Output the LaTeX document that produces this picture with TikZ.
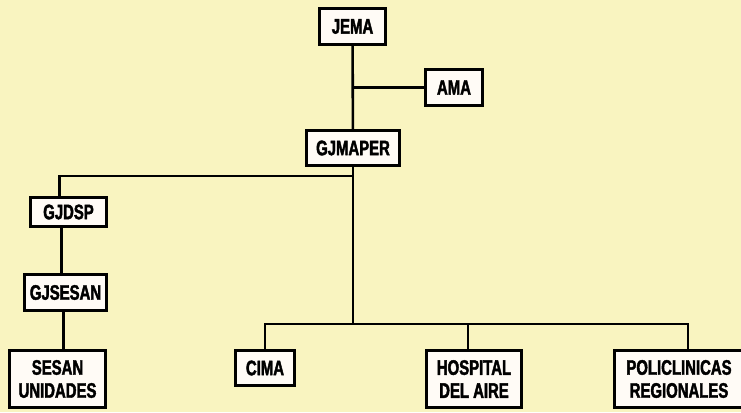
\documentclass[tikz,border=0pt]{standalone}
\usepackage{fontspec}
\setsansfont[FakeStretch=0.71,FakeBold=2]{Liberation Sans}
\definecolor{paper}{RGB}{249,244,192}
\definecolor{cardwhite}{RGB}{255,251,246}
\tikzset{every picture/.style={/utils/exec={\sffamily\bfseries}}}
\usetikzlibrary{positioning}
\tikzset{
  unit/.style={fill=cardwhite, draw=black, line width=3pt, inner sep=0pt, align=center,
    font=\fontsize{21}{23}\selectfont\sffamily\bfseries},
  link/.style={line width=2.6pt}
}

\begin{document}
\begin{tikzpicture}[x=1pt,y=-1pt]
  \fill [paper] (0,0) rectangle (741,412);
  \useasboundingbox (0,0) rectangle (741,412);

  \node [unit, minimum width=66pt, minimum height=36pt] (jema) at (352.5,26.5) {JEMA};
  \node [unit, minimum width=57pt, minimum height=36pt] (ama) at (454,87.5) {AMA};
  \node [unit, minimum width=93pt, minimum height=35pt] (gjmaper) at (353,148) {GJMAPER};

  \node [unit, minimum width=76pt, minimum height=29pt] (gjdsp) at (68.5,212) {GJDSP};
  \node [unit, minimum width=82pt, minimum height=36pt] (gjsesan) at (65.5,292.5) {GJSESAN};
  \node [unit, minimum width=96pt, minimum height=57pt] (sesan) at (57.5,379) {SESAN\\UNIDADES};

  \node [unit, minimum width=59pt, minimum height=35pt] (cima) at (265,368) {CIMA};
  \node [unit, minimum width=95pt, minimum height=57pt] (hospital) at (474,379) {HOSPITAL\\DEL AIRE};
  \node [unit, minimum width=129pt, minimum height=57pt] (policlinicas) at (679,379) {POLICLINICAS\\REGIONALES};

  \coordinate (split) at (353,176);
  \coordinate (bus) at (353,324);

  \draw [link] (jema) -- (gjmaper);
  \draw [link] (jema |- ama) -- (ama);
  \draw [link] (gjmaper) -- (bus);
  \draw [link] (split) -| ([xshift=-9pt]gjdsp.north);
  \draw [link] ([xshift=-7pt]gjdsp.south) -- ([xshift=-4pt]gjsesan.north);
  \draw [link] ([xshift=-2pt]gjsesan.south) -- ([xshift=6pt]sesan.north);
  \draw [link] (cima) |- (bus) -| ([xshift=9pt]policlinicas.north);
  \draw [link] ([xshift=-6pt]hospital.north) -- ([xshift=-6pt]hospital.north |- bus);
\end{tikzpicture}
\end{document}
